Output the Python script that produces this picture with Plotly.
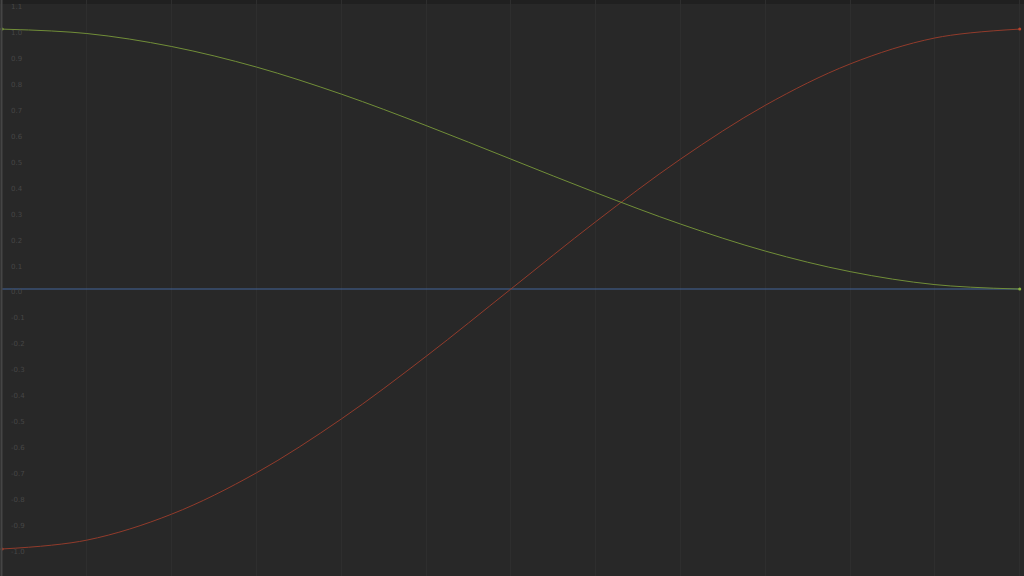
import plotly.graph_objects as go

# keyframe time steps (one per vertical grid line)
frames = [0, 1, 2, 3, 4, 5, 6, 7, 8, 9, 10, 11, 12]

# values at each grid line
green_vals = [1.0, 0.983, 0.933, 0.854, 0.75, 0.629, 0.5, 0.371, 0.25, 0.146, 0.067, 0.017, 0.0]
red_vals = [-1.0, -0.966, -0.866, -0.707, -0.5, -0.259, 0.0, 0.259, 0.5, 0.707, 0.866, 0.966, 1.0]
blue_vals = [0.0, 0.0, 0.0, 0.0, 0.0, 0.0, 0.0, 0.0, 0.0, 0.0, 0.0, 0.0, 0.0]

y_ticks = [1.1, 1.0, 0.9, 0.8, 0.7, 0.6, 0.5, 0.4, 0.3, 0.2, 0.1, 0.0,
           -0.1, -0.2, -0.3, -0.4, -0.5, -0.6, -0.7, -0.8, -0.9, -1.0, -1.1]
y_tick_text = ["%.1f" % v for v in y_ticks]

fig = go.Figure()
fig.add_trace(go.Scatter(x=frames, y=blue_vals, mode='lines',
                         line=dict(color='#43659a', width=1.1, shape='spline'), name='z'))
fig.add_trace(go.Scatter(x=frames, y=red_vals, mode='lines',
                         line=dict(color='#923b2b', width=1, shape='spline'), name='x'))
fig.add_trace(go.Scatter(x=frames, y=green_vals, mode='lines',
                         line=dict(color='#718e38', width=1, shape='spline'), name='y'))

# end keys
fig.add_trace(go.Scatter(x=[frames[0], frames[-1]], y=[green_vals[0], green_vals[-1]], mode='markers',
                         marker=dict(color='#8cb43c', size=3), hoverinfo='skip'))
fig.add_trace(go.Scatter(x=[frames[0], frames[-1]], y=[red_vals[0], red_vals[-1]], mode='markers',
                         marker=dict(color='#b8442c', size=3), hoverinfo='skip'))

fig.update_layout(
    width=1024, height=576,
    margin=dict(l=0, r=0, t=0, b=0),
    paper_bgcolor='#282828',
    plot_bgcolor='#282828',
    showlegend=False,
    xaxis=dict(range=[-0.024, 12.05], dtick=1, showgrid=True, gridcolor='#2e2e2e',
               gridwidth=1, zeroline=False, showticklabels=False, fixedrange=True),
    yaxis=dict(range=[-1.104, 1.112], tickvals=y_ticks, ticktext=y_tick_text,
               ticklabelposition='inside', ticklabelstandoff=8, ticklabelshift=3,
               tickfont=dict(family='DejaVu Sans', size=7, color='#464646'),
               showgrid=False, zeroline=False, showline=False, ticks='', fixedrange=True),
    shapes=[
        dict(type='rect', xref='paper', yref='paper', x0=0, x1=1, y0=0.993, y1=1,
             fillcolor='#202020', line_width=0, layer='below'),
        dict(type='line', xref='paper', yref='paper', x0=0.0015, x1=0.0015, y0=0, y1=1,
             line=dict(color='#454545', width=2)),
    ],
)

fig.write_html("out.html", config={'displayModeBar': False},
               post_script="document.body.style.margin='0px';document.body.style.overflow='hidden';document.body.style.background='#282828';")
